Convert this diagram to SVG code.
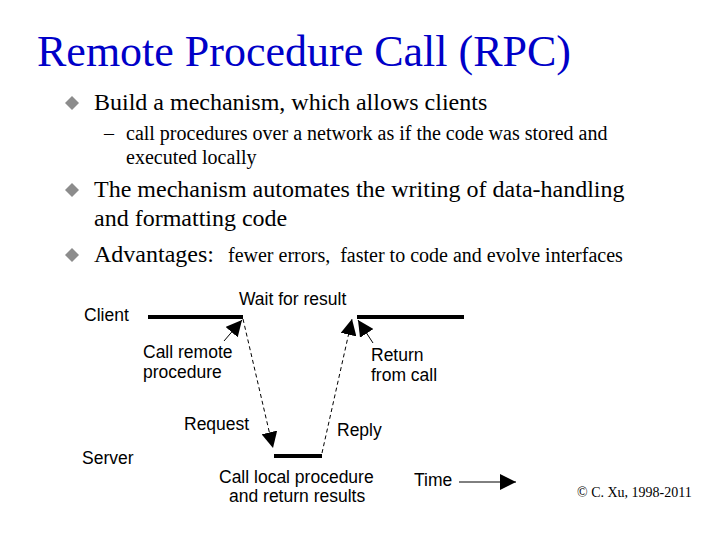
<svg xmlns="http://www.w3.org/2000/svg" width="720" height="540" viewBox="0 0 720 540">
<defs>
<style>
.title{font-family:"Liberation Serif","Times New Roman",serif;font-size:44px;fill:#0000c8}
.b1{font-family:"Liberation Serif","Times New Roman",serif;font-size:24px;fill:#000}
.b2{font-family:"Liberation Serif","Times New Roman",serif;font-size:20px;fill:#000;white-space:pre}
.lbl{font-family:"Liberation Sans",Arial,sans-serif;font-size:17.5px;fill:#000}
.copy{font-family:"Liberation Serif","Times New Roman",serif;font-size:14px;fill:#000}
.bar{stroke:#000;stroke-width:4;fill:none}
.dash{stroke:#000;stroke-width:1;stroke-dasharray:4 3;fill:none}
.lead{stroke:#000;stroke-width:1;fill:none}
.dia{fill:#8c8c8c}
</style>
<marker id="ah" viewBox="0 0 10 10" refX="10" refY="5" markerWidth="16" markerHeight="16" markerUnits="userSpaceOnUse" orient="auto">
<path d="M0,0 L10,5 L0,10 z" fill="#000"/>
</marker>
</defs>
<rect width="720" height="540" fill="#fff"/>
<text class="title" x="37" y="66">Remote Procedure Call (RPC)</text>
<g id="bullets">
<path class="dia" d="M72,96 L79,103 L72,110 L65,103 z"/>
<text class="b1" x="94" y="110">Build a mechanism, which allows clients</text>
<text class="b2" x="104" y="140">–</text>
<text class="b2" x="126" y="140">call procedures over a network as if the code was stored and</text>
<text class="b2" x="126" y="164">executed locally</text>
<path class="dia" d="M72,183 L79,190 L72,197 L65,190 z"/>
<text class="b1" x="94" y="197">The mechanism automates the writing of data-handling</text>
<text class="b1" x="94" y="226">and formatting code</text>
<path class="dia" d="M72,248 L79,255 L72,262 L65,255 z"/>
<text class="b1" x="94" y="262">Advantages:</text>
<text class="b2" x="228" y="262" xml:space="preserve">fewer errors,  faster to code and evolve interfaces</text>
</g>
<g id="client">
<text class="lbl" x="84" y="321">Client</text>
<line class="bar" x1="148" y1="317" x2="243" y2="317"/>
<line class="bar" x1="357" y1="317" x2="464" y2="317"/>
<text class="lbl" x="239" y="305">Wait for result</text>
</g>
<g id="server">
<text class="lbl" x="82" y="464">Server</text>
<line class="bar" x1="274" y1="456" x2="322" y2="456"/>
<text class="lbl" x="219" y="483">Call local procedure</text>
<text class="lbl" x="229" y="502">and return results</text>
</g>
<g id="labels">
<text class="lbl" x="143" y="358">Call remote</text>
<text class="lbl" x="143" y="378">procedure</text>
<text class="lbl" x="371" y="361">Return</text>
<text class="lbl" x="371" y="381">from call</text>
<text class="lbl" x="184" y="430">Request</text>
<text class="lbl" x="337" y="436">Reply</text>
<text class="lbl" x="414" y="486">Time</text>
</g>
<g id="connectors">
<line class="lead" x1="224" y1="341" x2="242" y2="320" marker-end="url(#ah)"/>
<line class="lead" x1="373" y1="343" x2="358" y2="320" marker-end="url(#ah)"/>
<line class="dash" x1="243" y1="319" x2="273" y2="448" marker-end="url(#ah)"/>
<line class="dash" x1="322" y1="453" x2="352" y2="319" marker-end="url(#ah)"/>
<line class="lead" x1="459" y1="482" x2="516" y2="482" marker-end="url(#ah)"/>
</g>
<text class="copy" x="577" y="497">© C. Xu, 1998-2011</text>
</svg>
